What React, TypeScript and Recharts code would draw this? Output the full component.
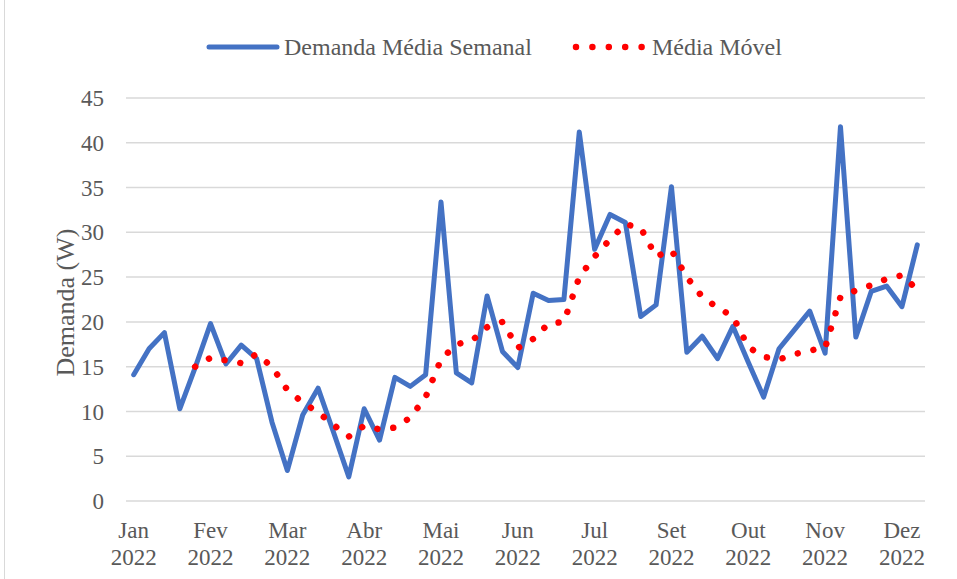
import React from "react";
import { LineChart, Line, XAxis, YAxis, CartesianGrid } from "recharts";

// Weekly average demand (W), 52 weeks of 2022
const demandaSemanal = [
  14.1, 17.0, 18.8, 10.3, 14.9, 19.8, 15.3, 17.4, 15.9, 8.8,
  3.4, 9.6, 12.6, 7.7, 2.7, 10.3, 6.8, 13.8, 12.8, 14.1,
  33.4, 14.3, 13.2, 22.9, 16.7, 14.9, 23.2, 22.4, 22.5, 41.2,
  28.1, 32.0, 31.1, 20.6, 21.9, 35.1, 16.6, 18.4, 15.9, 19.5,
  15.5, 11.6, 17.0, 19.1, 21.2, 16.5, 41.8, 18.3, 23.4, 24.0,
  21.7, 28.6,
];

// Moving average (first four weeks have no value)
const mediaMovel = [
  null, null, null, null, 15.0, 16.0, 15.7, 15.4, 16.4, 15.0,
  12.4, 11.0, 9.9, 8.5, 7.2, 8.4, 8.0, 8.2, 9.3, 11.6,
  15.8, 17.5, 17.9, 19.4, 20.0, 17.1, 18.1, 19.8, 20.0, 25.0,
  27.3, 29.2, 30.9, 30.5, 27.3, 28.0, 25.0, 22.8, 21.6, 20.6,
  17.2, 16.1, 15.8, 16.4, 16.8, 17.1, 22.8, 23.5, 24.1, 24.8,
  25.2, 23.6,
];

const tickWeeks = [1, 6, 11, 16, 21, 26, 31, 36, 41, 46, 51];
const tickMonths = ["Jan", "Fev", "Mar", "Abr", "Mai", "Jun", "Jul", "Set", "Out", "Nov", "Dez"];
const tickYears = ["2022", "2022", "2022", "2022", "2022", "2022", "2022", "2022", "2022", "2022", "2022"];
const yTicks = [0, 5, 10, 15, 20, 25, 30, 35, 40, 45];

const seriesNames = ["Demanda Média Semanal", "Média Móvel"];
const BLUE = "#4472C4";
const RED = "#FF0000";
const TEXT = "#595959";
const FONT = "'Times New Roman', 'Liberation Serif', serif";

const data = demandaSemanal.map((v, i) => ({
  week: i + 1,
  demanda: v,
  media: mediaMovel[i],
}));

const MonthTick = (props: any) => {
  const { x, y, payload } = props;
  const i = tickWeeks.indexOf(payload.value);
  return (
    <text x={x} y={y} textAnchor="middle" fill={TEXT} fontSize={23} fontFamily={FONT}>
      <tspan x={x} dy={29}>{tickMonths[i]}</tspan>
      <tspan x={x} dy={27}>{tickYears[i]}</tspan>
    </text>
  );
};

const YLabel = (props: any) => {
  const vb = props.viewBox || { x: 0, y: 98, width: 126, height: 403 };
  const x = vb.x + 74;
  const y = vb.y + vb.height / 2 + 3;
  return (
    <text
      x={x}
      y={y}
      transform={`rotate(-90, ${x}, ${y})`}
      textAnchor="middle"
      fill={TEXT}
      fontSize={26}
      fontFamily={FONT}
    >
      Demanda (W)
    </text>
  );
};

export default function App() {
  return (
    <div
      style={{
        position: "fixed",
        left: 0,
        top: 0,
        width: 957,
        height: 579,
        background: "#fff",
        overflow: "hidden",
      }}
    >
      <div
        style={{
          position: "absolute",
          left: 4,
          top: 0,
          width: 1,
          height: 579,
          background: "#d9d9d9",
        }}
      />
      {/* Legend */}
      <div
        style={{
          position: "absolute",
          left: 206,
          top: 30,
          height: 34,
          display: "flex",
          alignItems: "center",
          fontFamily: FONT,
          fontSize: 24,
          color: TEXT,
          whiteSpace: "nowrap",
        }}
      >
        <svg width={74} height={10} style={{ marginRight: 4 }}>
          <line x1={3} y1={5} x2={71} y2={5} stroke={BLUE} strokeWidth={5} strokeLinecap="round" />
        </svg>
        <span>{seriesNames[0]}</span>
        <svg width={76} height={10} style={{ marginLeft: 40, marginRight: 4 }}>
          <line
            x1={4}
            y1={5}
            x2={70}
            y2={5}
            stroke={RED}
            strokeWidth={6.5}
            strokeLinecap="round"
            strokeDasharray="0.001 16.4"
          />
        </svg>
        <span>{seriesNames[1]}</span>
      </div>
      <div style={{ position: "absolute", left: 0, top: 0 }}>
        <LineChart
          width={957}
          height={579}
          data={data}
          margin={{ top: 98, right: 32, bottom: 0, left: 0 }}
        >
          <CartesianGrid vertical={false} stroke="#d9d9d9" strokeWidth={1.5} />
          <XAxis
            dataKey="week"
            ticks={tickWeeks}
            interval={0}
            height={78}
            padding={{ left: 7.7, right: 7.7 }}
            axisLine={false}
            tickLine={false}
            tick={<MonthTick />}
          />
          <YAxis
            domain={[0, 45]}
            ticks={yTicks}
            width={126}
            axisLine={false}
            tickLine={false}
            tickMargin={16}
            tick={{ fill: TEXT, fontSize: 23, fontFamily: FONT }}
            label={<YLabel />}
          />
          <Line
            type="linear"
            dataKey="demanda"
            name={seriesNames[0]}
            stroke={BLUE}
            strokeWidth={5}
            strokeLinejoin="round"
            strokeLinecap="round"
            dot={false}
            activeDot={false}
            isAnimationActive={false}
          />
          <Line
            type="linear"
            dataKey="media"
            name={seriesNames[1]}
            stroke={RED}
            strokeWidth={6.5}
            strokeLinecap="round"
            strokeDasharray="0.001 16"
            dot={false}
            activeDot={false}
            isAnimationActive={false}
          />
        </LineChart>
      </div>
    </div>
  );
}
